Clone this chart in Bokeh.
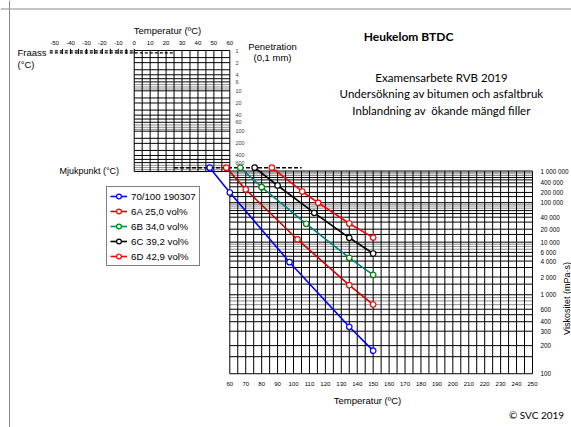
import math
import numpy as np
from bokeh.plotting import figure
from bokeh.models import Range1d, Legend, LegendItem, Span
from bokeh.core.properties import value
from bokeh.embed import file_html
from bokeh.resources import INLINE

# ---------------- data ----------------
series_names = ["70/100 190307", "6A 25,0 vol%", "6B 34,0 vol%", "6C 39,2 vol%", "6D 42,9 vol%"]
softening_point = [47.4, 57.8, 66.6, 75.6, 86.4]          # Mjukpunkt, degC
sp_penetration = 800                                      # penetration at softening point (0,1 mm)

temp_7010 = [60, 97.5, 135, 150]
visc_7010 = [199000, 3800, 342, 175]                      # mPa.s
temp_6A = [70, 102.5, 135, 150]
visc_6A = [246000, 11500, 1440, 705]
temp_6B = [80, 108, 135, 150]
visc_6B = [291000, 27200, 4650, 2190]
temp_6C = [90, 113, 135, 150]
visc_6C = [329000, 52300, 12550, 5700]
temp_6D = [105.5, 115.5, 135, 150]
visc_6D = [214000, 99100, 27600, 12700]

top_temp_ticks = [-50, -40, -30, -20, -10, 0, 10, 20, 30, 40, 50, 60]
bottom_temp_ticks = list(range(60, 251, 10))
pen_ticks = [1, 2, 4, 6, 10, 20, 40, 60, 100, 200, 400, 600]
visc_ticks = [1000000, 400000, 200000, 100000, 40000, 20000, 10000, 6000, 4000,
              2000, 1000, 600, 400, 300, 200, 100]
visc_tick_labels = ["1 000 000", "400 000", "200 000", "100 000", "40 000", "20 000",
                    "10 000", "6 000", "4 000", "2 000", "1 000", "600", "400", "300", "200", "100"]
fraass_ticks = [-45, -40, -35, -30, -25, -20, -15, -10, -5, 0]
grid_mantissas = [1, 1.5, 2, 3, 4, 5, 6, 7, 8, 9]

# ---------------- chart scales ----------------
X60, PXC = 229.3, 1.593          # pixel column of 60 degC, pixels per degC


def PX(px):                       # layout pixel column -> temperature axis
    return 60 + (px - X60) / PXC


def pen_y(p):                     # penetration (log) scale
    return 50 + 40.35 * math.log10(p)


def visc_y(v):                    # Heukelom viscosity scale
    return 170.5 + 159.7 * math.log(5.563 / (math.log10(v) - 0.437))


W, H = 571, 427
p = figure(width=W, height=H, output_backend="svg", toolbar_location=None,
           x_range=Range1d(PX(0), PX(571)), y_range=Range1d(427, 0),
           min_border=0, outline_line_color=None)
p.xaxis.visible = False
p.yaxis.visible = False
p.grid.visible = False
p.background_fill_color = "white"

# page border (top and left)
p.add_layout(Span(location=8.5, dimension="width", line_color="#8a8a8a", line_width=1))
p.add_layout(Span(location=PX(9), dimension="height", line_color="#8a8a8a", line_width=1))

# ---------------- grids ----------------
def hlines(values, fy, x0, x1):
    bx, by, gx, gy = [], [], [], []
    for v in values:
        y = fy(v)
        m = round(v / 10 ** math.floor(math.log10(v) + 1e-9), 2)
        if m in (7, 8, 9):
            gx.append([x0, x1]); gy.append([y, y])
        else:
            bx.append([x0, x1]); by.append([y, y])
    p.multi_line(gx, gy, line_color="#8c8c8c", line_width=1)
    p.multi_line(bx, by, line_color="black", line_width=1)


pen_vals = [m * 10 ** d for d in range(0, 3) for m in grid_mantissas] + [1000]
visc_vals = [m * 10 ** d for d in range(2, 6) for m in grid_mantissas] + [1000000]

# upper (penetration) grid 0..60 degC
hlines(pen_vals, pen_y, 0, 60)
ut = list(range(0, 61, 5))
p.multi_line([[t, t] for t in ut], [[pen_y(1), pen_y(1000)] for t in ut], line_color="black", line_width=1)

# lower (viscosity) grid 60..250 degC
hlines(visc_vals, visc_y, 60, 250)
lt = list(range(60, 251, 5))
p.multi_line([[t, t] for t in lt], [[visc_y(1e6), visc_y(100)] for t in lt], line_color="black", line_width=1)

# Fraass scale
p.line([-53, 0], [50.3, 50.3], line_color="black", line_width=1.2, line_dash="3 2")
p.line([-53, 25], [52.3, 52.3], line_color="black", line_width=1.2, line_dash="3 2")
p.multi_line([[t, t] for t in fraass_ticks], [[48.3, 53.5] for t in fraass_ticks], line_color="black", line_width=1)

# Mjukpunkt line
ysp = pen_y(sp_penetration)
p.line([25, 105], [ysp, ysp], line_color="black", line_width=1.5, line_dash="4 2")

# ---------------- series ----------------
temps = [temp_7010, temp_6A, temp_6B, temp_6C, temp_6D]
viscs = [visc_7010, visc_6A, visc_6B, visc_6C, visc_6D]
line_colors = ["#0000ff", "#d00000", "#008080", "#000000", "#ff0000"]
marker_colors = ["#0000ff", "#ff0000", "#008000", "#000000", "#ff0000"]

items = []
for name, sp, ts, vs, lc, mc in zip(series_names, softening_point, temps, viscs, line_colors, marker_colors):
    xs = [sp] + ts
    ys = [ysp] + [visc_y(v) for v in vs]
    lr = p.line(xs, ys, line_color=lc, line_width=1.6)
    sr = p.scatter(xs, ys, marker="circle", size=5.5, line_color=mc, fill_color="white", line_width=1.2)
    items.append(LegendItem(label=name, renderers=[lr, sr]))

legend = Legend(items=items, location=(106, 161), orientation="vertical",
                border_line_color="black", border_line_width=1, background_fill_alpha=1,
                label_text_font="Liberation Sans", label_text_font_size="9.7px",
                label_text_color="black",
                glyph_width=17, glyph_height=12, label_height=12, spacing=3,
                padding=3, label_standoff=4, margin=0)
p.add_layout(legend)

# ---------------- texts ----------------
ARIAL = value("Liberation Sans")
CAL = value("Lato")


def txt(x, y, t, size, font=ARIAL, align="center", color="black", style="normal", angle=0):
    p.text(x=x, y=y, text=t, text_font=font, text_font_size=value(size), text_align=align,
           text_baseline="middle", text_color=color, text_font_style=style, angle=angle)


txt([PX(167)], [30], ["Temperatur (ºC)"], "9.5px")
txt(top_temp_ticks, [42] * len(top_temp_ticks), [str(t) for t in top_temp_ticks], "6px")
txt([PX(17)], [52], ["Fraass"], "9.5px", align="left")
txt([PX(17)], [64], ["(°C)"], "9.5px", align="left")
txt([PX(272)], [46], ["Penetration"], "9.5px")
txt([PX(272)], [57], ["(0,1 mm)"], "9.5px")
txt([PX(235)] * len(pen_ticks), [pen_y(v) for v in pen_ticks], [str(v) for v in pen_ticks], "5.5px",
    align="left", color="#404040")
txt([PX(59)], [170], ["Mjukpunkt (°C)"], "9px", align="left")
txt([PX(540)] * len(visc_ticks), [visc_y(v) for v in visc_ticks], visc_tick_labels, "6.3px", align="left")
txt([PX(566)], [298], ["Viskositet (mPa·s)"], "9px", angle=math.pi / 2)
txt(bottom_temp_ticks, [383] * len(bottom_temp_ticks), [str(t) for t in bottom_temp_ticks], "6px")
txt([PX(367)], [400], ["Temperatur (ºC)"], "9.5px")
txt([PX(536)], [414], ["© SVC 2019"], "10px", font=CAL)
txt([PX(408)], [36], ["Heukelom BTDC"], "12px", font=CAL, style="bold")
txt([PX(441)] * 3, [77, 93, 110],
    ["Examensarbete RVB 2019", "Undersökning av bitumen och asfaltbruk", "Inblandning av \u00a0ökande mängd filler"],
    "11.5px", font=CAL)

open("out.html", "w").write(file_html(p, INLINE))
